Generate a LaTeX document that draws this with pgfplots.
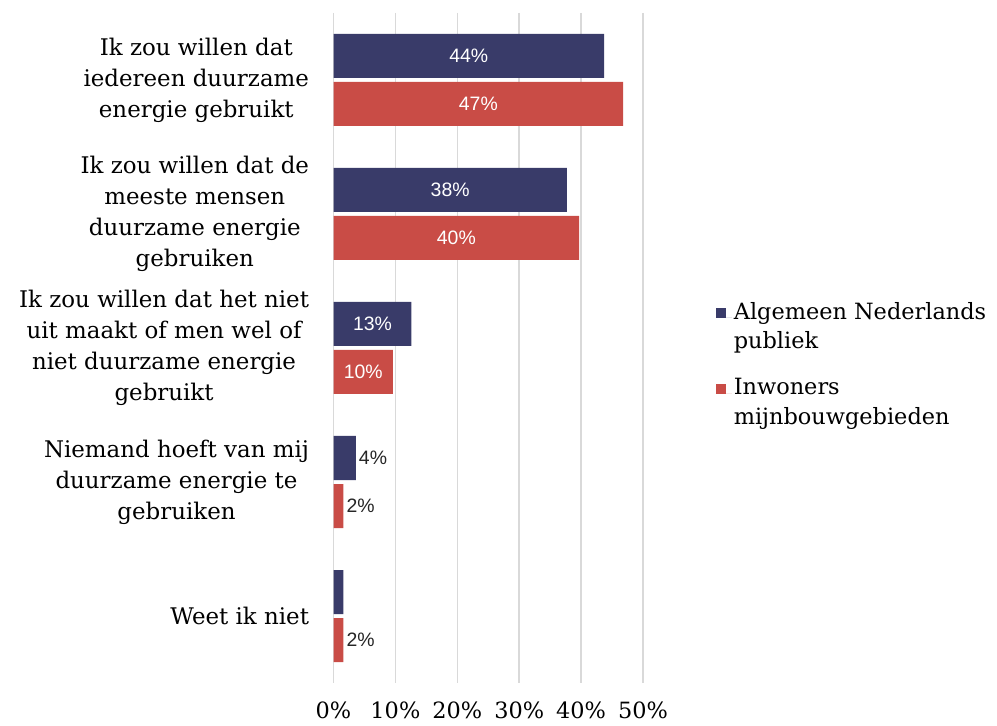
\documentclass[border=0pt]{standalone}
\usepackage{pgfplots}
\pgfplotsset{compat=1.18}
\usepackage{pgfplotstable}
\usepackage{fontspec}
\setmainfont{DejaVu Serif}
\newfontfamily\barfont{Liberation Sans}
\definecolor{navy}{HTML}{393B69}
\definecolor{brick}{HTML}{C94C46}
\definecolor{gridc}{HTML}{D9D9D9}
\definecolor{labc}{HTML}{262626}

\pgfplotstableread{
c v lab
0 43.7 44\%
1 37.7 38\%
2 12.6 13\%
3 3.6 4\%
4 1.6 {}
}\navytab

\pgfplotstableread{
c v lab
0 46.8 47\%
1 39.7 40\%
2 9.6 10\%
3 1.6 2\%
4 1.6 2\%
}\redtab

\begin{document}
\begin{tikzpicture}[x=1bp,y=1bp]
\path[use as bounding box] (0,0) rectangle (997,726);
\begin{axis}[
  at={(333.5bp,43bp)}, anchor=south west,
  scale only axis, width=309.5bp, height=670bp,
  xmin=0, xmax=50, ymin=-0.5, ymax=4.5, y dir=reverse,
  xtick={0,10,20,30,40,50},
  xticklabels={0\%,10\%,20\%,30\%,40\%,50\%},
  ytick={0,1,2,3,4},
  yticklabels={
    {Ik zou willen dat\\iedereen duurzame\\energie gebruikt},
    {Ik zou willen dat de\\meeste mensen\\duurzame energie\\gebruiken},
    {Ik zou willen dat het niet\\uit maakt of men wel of\\niet duurzame energie\\gebruikt},
    {Niemand hoeft van mij\\duurzame energie te\\gebruiken},
    {Weet ik niet}},
  yticklabel style={align=center, xshift=-21bp, text=black, font=\fontsize{23}{31}\selectfont},
  xticklabel style={yshift=-17bp, text=black, inner sep=2bp, font=\fontsize{22.5}{27}\selectfont},
  xmajorgrids, ymajorgrids=false,
  grid style={gridc, line width=1.6bp},
  axis line style={draw=none},
  major tick length=0pt,
  legend style={draw=none, fill=none, at={(1.225,0.476)}, anchor=west,
     font=\fontsize{22.5}{30}\selectfont,
     cells={anchor=base west, align=left}, row sep=24bp},
]
\addplot[xbar, bar width=44bp, bar shift=24bp, fill=navy, draw=none,
  legend image code/.code={\fill[navy] (0bp,31bp) rectangle (10bp,41bp); \path (0bp,31bp) -- (16bp,31bp);}]
  table[x=v, y=c]{\navytab};
\addlegendentry{Algemeen Nederlands\\publiek}
\addplot[xbar, bar width=44bp, bar shift=-24bp, fill=brick, draw=none,
  legend image code/.code={\fill[brick] (0bp,31bp) rectangle (10bp,41bp); \path (0bp,31bp) -- (16bp,31bp);}]
  table[x=v, y=c]{\redtab};
\addlegendentry{Inwoners\\mijnbouwgebieden}

% inside labels
\addplot[forget plot, draw=none, mark=none, nodes near coords, point meta=explicit symbolic,
  nodes near coords style={font=\barfont\fontsize{19.5}{19.5}\selectfont, text=white, anchor=center}]
  table[x expr={\thisrow{v}>=8 ? \thisrow{v}/2 : nan}, y expr={\thisrow{c}-0.1791}, meta=lab]{\navytab};
\addplot[forget plot, draw=none, mark=none, nodes near coords, point meta=explicit symbolic,
  nodes near coords style={font=\barfont\fontsize{19.5}{19.5}\selectfont, text=white, anchor=center}]
  table[x expr={\thisrow{v}>=8 ? \thisrow{v}/2 : nan}, y expr={\thisrow{c}+0.1791}, meta=lab]{\redtab};
% outside labels
\addplot[forget plot, draw=none, mark=none, nodes near coords, point meta=explicit symbolic,
  nodes near coords style={font=\barfont\fontsize{19.5}{19.5}\selectfont, text=labc, anchor=west, inner sep=3bp}]
  table[x expr={\thisrow{v}<8 ? \thisrow{v} : nan}, y expr={\thisrow{c}-0.1791}, meta=lab]{\navytab};
\addplot[forget plot, draw=none, mark=none, nodes near coords, point meta=explicit symbolic,
  nodes near coords style={font=\barfont\fontsize{19.5}{19.5}\selectfont, text=labc, anchor=west, inner sep=3bp}]
  table[x expr={\thisrow{v}<8 ? \thisrow{v} : nan}, y expr={\thisrow{c}+0.1791}, meta=lab]{\redtab};
\end{axis}
\end{tikzpicture}
\end{document}
